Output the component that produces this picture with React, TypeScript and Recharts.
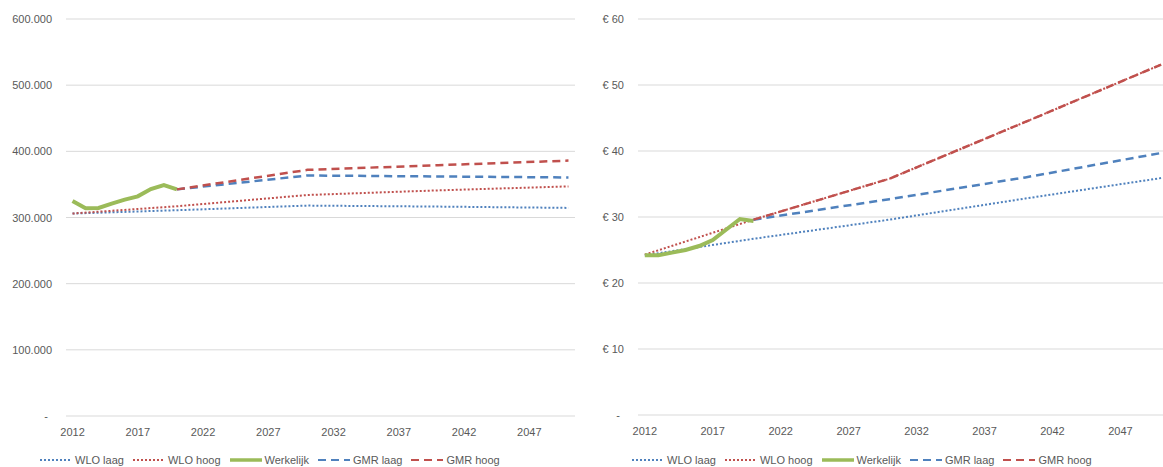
import { LineChart, Line, XAxis, YAxis, CartesianGrid, Legend } from "recharts";

const BLAUW = "#4F81BD";
const ROOD = "#C0504D";
const GROEN = "#9BBB59";
const TEKST = "#595959";
const GRID = "#D9D9D9";
const FONT = "'Liberation Sans', Arial, sans-serif";

// jaartallen
const jarenWerkelijk = [2012, 2013, 2014, 2015, 2016, 2017, 2018, 2019, 2020];
const jarenWlo = [2012, 2020, 2030, 2040, 2050];
const jarenGmr = [2020, 2030, 2040, 2050];
const jaarTicks = [2012, 2017, 2022, 2027, 2032, 2037, 2042, 2047];

// links: aantallen
const aantalWerkelijk = [325000, 314000, 314500, 321000, 327000, 332000, 343000, 349000, 342500];
const aantalWloLaag = [306000, 311000, 318000, 316500, 314500];
const aantalWloHoog = [306000, 317000, 334000, 341000, 347000];
const aantalGmrLaag = [342500, 363500, 362000, 360500];
const aantalGmrHoog = [342500, 372000, 379000, 386000];
const aantalTicks = [0, 100000, 200000, 300000, 400000, 500000, 600000];

// rechts: prijs in euro
const prijsWerkelijk = [24.2, 24.2, 24.6, 25.0, 25.6, 26.5, 28.1, 29.7, 29.4];
const prijsWloLaag = [24.2, 26.7, 29.6, 32.8, 35.9];
const prijsWloHoog = [24.3, 29.6, 35.8, 44.4, 53.1];
const prijsGmrLaag = [29.6, 32.7, 36.0, 39.7];
const prijsGmrHoog = [29.6, 35.8, 44.4, 53.1];
const prijsTicks = [0, 10, 20, 30, 40, 50, 60];

const reeksen = [
  { key: "wloLaag", naam: "WLO laag", kleur: BLAUW, dash: "2 2", breedte: 2 },
  { key: "wloHoog", naam: "WLO hoog", kleur: ROOD, dash: "2 2", breedte: 2 },
  { key: "werkelijk", naam: "Werkelijk", kleur: GROEN, dash: undefined, breedte: 4 },
  { key: "gmrLaag", naam: "GMR laag", kleur: BLAUW, dash: "8 5", breedte: 2.5 },
  { key: "gmrHoog", naam: "GMR hoog", kleur: ROOD, dash: "8 5", breedte: 2.5 },
];

const punten = (jaren: number[], waarden: number[]) =>
  jaren.map((jaar, i) => ({ jaar, waarde: waarden[i] }));

const dataLinks: Record<string, { jaar: number; waarde: number }[]> = {
  wloLaag: punten(jarenWlo, aantalWloLaag),
  wloHoog: punten(jarenWlo, aantalWloHoog),
  werkelijk: punten(jarenWerkelijk, aantalWerkelijk),
  gmrLaag: punten(jarenGmr, aantalGmrLaag),
  gmrHoog: punten(jarenGmr, aantalGmrHoog),
};

const dataRechts: Record<string, { jaar: number; waarde: number }[]> = {
  wloLaag: punten(jarenWlo, prijsWloLaag),
  wloHoog: punten(jarenWlo, prijsWloHoog),
  werkelijk: punten(jarenWerkelijk, prijsWerkelijk),
  gmrLaag: punten(jarenGmr, prijsGmrLaag),
  gmrHoog: punten(jarenGmr, prijsGmrHoog),
};

const fmtAantal = (v: number) =>
  v === 0 ? "-" : String(Math.round(v)).replace(/\B(?=(\d{3})+(?!\d))/g, ".");
const fmtPrijs = (v: number) => (v === 0 ? "-" : `€ ${v}`);

function YTick(props: any) {
  const { x, y, payload, fmt } = props;
  const nul = payload.value === 0;
  return (
    <text x={x} y={y} dx={nul ? -4 : 0} dy={4} textAnchor="end" fill={TEKST} fontSize={11} fontFamily={FONT}>
      {fmt(payload.value)}
    </text>
  );
}

function Legenda({ pad }: { pad: number }) {
  return (
    <div style={{ display: "flex", alignItems: "center", height: 14, paddingLeft: pad, fontFamily: FONT, fontSize: 11, color: TEKST, whiteSpace: "nowrap" }}>
      {reeksen.map((r) => (
        <div key={r.key} style={{ display: "flex", alignItems: "center", marginRight: 9 }}>
          <svg width={32} height={6}>
            <line x1={0} y1={3} x2={32} y2={3} stroke={r.kleur} strokeWidth={r.key === "werkelijk" ? 3.5 : 2} strokeDasharray={r.dash} />
          </svg>
          <span style={{ marginLeft: 3 }}>{r.naam}</span>
        </div>
      ))}
    </div>
  );
}

function Paneel({ data, ticks, fmt, width, yWidth, xHeight, legendPad }: any) {
  return (
    <LineChart width={width} height={467} margin={{ top: 19, right: 0, bottom: 0, left: 0 }}>
      <CartesianGrid vertical={false} stroke={GRID} />
      <XAxis
        dataKey="jaar"
        type="number"
        domain={[2011.5, 2050.5]}
        ticks={jaarTicks}
        height={xHeight}
        axisLine={false}
        tickLine={false}
        tickSize={0}
        tickMargin={12}
        tick={{ fill: TEKST, fontSize: 11, fontFamily: FONT }}
      />
      <YAxis
        type="number"
        domain={[ticks[0], ticks[ticks.length - 1]]}
        ticks={ticks}
        width={yWidth}
        axisLine={false}
        tickLine={false}
        tickSize={0}
        tickMargin={14}
        tick={(p: any) => <YTick {...p} fmt={fmt} />}
      />
      <Legend verticalAlign="bottom" align="left" height={14} wrapperStyle={{ left: 0, bottom: 0 }} content={() => <Legenda pad={legendPad} />} />
      {reeksen.map((r) => (
        <Line
          key={r.key}
          data={data[r.key]}
          dataKey="waarde"
          name={r.naam}
          type="linear"
          stroke={r.kleur}
          strokeWidth={r.breedte}
          strokeDasharray={r.dash}
          dot={false}
          activeDot={false}
          isAnimationActive={false}
        />
      ))}
    </LineChart>
  );
}

export default function App() {
  return (
    <div style={{ position: "absolute", left: 0, top: 0, width: 1163, height: 467, overflow: "hidden", background: "#fff" }}>
      <div style={{ position: "absolute", left: 0, top: 0 }}>
        <Paneel data={dataLinks} ticks={aantalTicks} fmt={fmtAantal} width={575} yWidth={66} xHeight={37} legendPad={40} />
      </div>
      <div style={{ position: "absolute", left: 590, top: 0 }}>
        <Paneel data={dataRechts} ticks={prijsTicks} fmt={fmtPrijs} width={578} yWidth={48} xHeight={38} legendPad={42} />
      </div>
    </div>
  );
}
